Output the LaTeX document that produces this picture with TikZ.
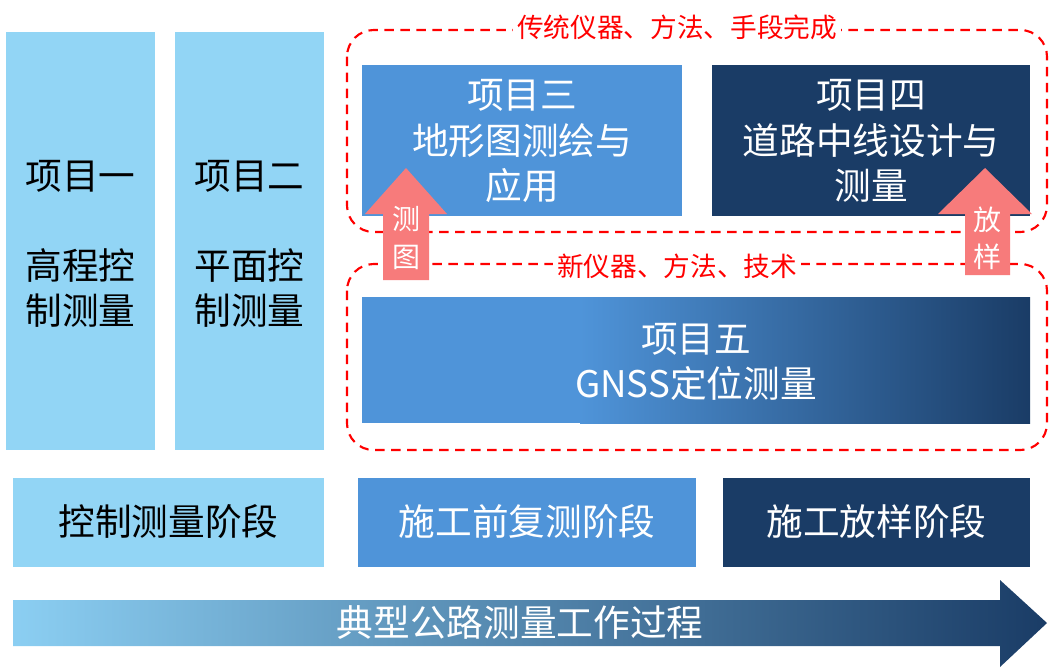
\documentclass[tikz,border=0pt]{standalone}
\usepackage{fontspec}
\setmainfont{Noto Sans CJK SC}
\usetikzlibrary{positioning}
\definecolor{lb}{HTML}{92D5F5}
\definecolor{mb}{HTML}{4F94D9}
\definecolor{db}{HTML}{1A3C66}
\definecolor{pk}{HTML}{F77B7B}
\begin{document}
\begin{tikzpicture}[x=0.75pt,y=-0.75pt,
  box/.style={inner sep=0,outer sep=0,align=center,font=\fontsize{27.5}{34}\selectfont},
  grp/.style={draw=red,dash pattern=on 7pt off 5pt,line width=1.6pt,rounded corners=20pt},
  lab/.style={fill=white,text=red,inner sep=3pt,font=\fontsize{20}{22}\selectfont}]
\useasboundingbox (0,0) rectangle (1050,669);
% columns
\fill[lb] (6,32) rectangle (155,450);
\fill[lb] (175,32) rectangle (324,450);
\node[box] (c1a) at (80.5,176) {项目一};
\node[box,align=center] (c1b) at (80.5,288) {高程控\\制测量};
\node[box] (c2a) at (249.5,176) {项目二};
\node[box,align=center] (c2b) at (249.5,288) {平面控\\制测量};
% groups
\draw[grp] (347,30) rectangle (1047,232);
\node[lab] (g1) at (677,27) {传统仪器、方法、手段完成};
\draw[grp] (347,264) rectangle (1047,450);
\node[lab] (g2) at (677,266) {新仪器、方法、技术};
% boxes
\fill[mb] (362,65) rectangle (682,216);
\node[box,text=white] (p3) at (522,141) {项目三\\地形图测绘与\\应用};
\fill[db] (712,65) rectangle (1030,216);
\node[box,text=white] (p4) at (871,141) {项目四\\道路中线设计与\\测量};
\shade[left color=mb,right color=db] (580,297) rectangle (1030,423);
\fill[mb] (362,297) rectangle (581,423);
\node[box,text=white] (p5) at (696,362) {项目五\\GNSS定位测量};
% up arrows
\fill[pk] (383,280) -- (383,214) -- (365,214) -- (406,168) -- (447,214) -- (429,214) -- (429,280) -- cycle;
\node[box,text=white,font=\fontsize{21}{28}\selectfont] (a1) at (406,238) {测\\图};
\fill[pk] (965,275) -- (965,214) -- (938,214) -- (985,168) -- (1032,214) -- (1010,214) -- (1010,275) -- cycle;
\node[box,text=white,font=\fontsize{21}{28}\selectfont] (a2) at (987,238) {放\\样};
% stages
\fill[lb] (13,478) rectangle (324,567);
\node[box] (s1) at (168.5,522) {控制测量阶段};
\fill[mb] (358,478) rectangle (696,567);
\node[box,text=white] (s2) at (527,522) {施工前复测阶段};
\fill[db] (723,478) rectangle (1030,567);
\node[box,text=white] (s3) at (876.5,522) {施工放样阶段};
% big arrow
\shade[left color=lb!90!mb,right color=db] (13,600) -- (1000,600) -- (1000,580) -- (1047,623) -- (1000,667) -- (1000,646) -- (13,646) -- cycle;
\node[box,text=white] (t) at (520,623) {典型公路测量工作过程};
\end{tikzpicture}
\end{document}
